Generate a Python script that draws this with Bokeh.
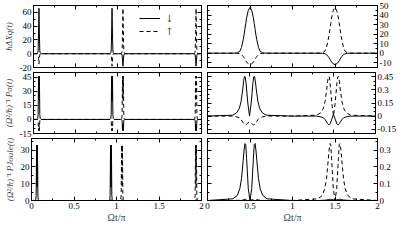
from bokeh.plotting import figure
from bokeh.models import LinearAxis, FixedTicker, Range1d, Legend, LegendItem, ColumnDataSource
from bokeh.layouts import column, row
from bokeh.embed import file_html
from bokeh.resources import INLINE

# ---------------- data ----------------
# left column: time in units of pi (Omega t / pi)
t_left = [0.0,
          0.04, 0.05, 0.055, 0.06, 0.065, 0.07, 0.075, 0.08, 0.09,
          0.91, 0.92, 0.925, 0.93, 0.935, 0.94, 0.945, 0.95, 0.96,
          1.04, 1.05, 1.055, 1.06, 1.065, 1.07, 1.075, 1.08, 1.09,
          1.91, 1.92, 1.925, 1.93, 1.935, 1.94, 1.945, 1.95, 1.96,
          2.0]
dx_down = [0,
           0, 1.5, 4, 30, 66, 30, 4, 1.5, 0,
           0, 1.5, 4, 30, 66, 30, 4, 1.5, 0,
           0, -0.5, -2, -9, -18, -9, -2, -0.5, 0,
           0, -0.5, -2, -9, -18, -9, -2, -0.5, 0,
           0]
dx_up = [0,
         0, -0.5, -1.5, -7, -15, -7, -1.5, -0.5, 0,
         0, -0.5, -2, -9, -18, -9, -2, -0.5, 0,
         0, 1.5, 4, 30, 66, 30, 4, 1.5, 0,
         0, 1.5, 4, 30, 66, 30, 4, 1.5, 0,
         0]
ps_down = [0,
           0, 1, 5, 46, 20, 46, 5, 1, 0,
           0, 1, 5, 46, 20, 46, 5, 1, 0,
           0, -0.3, -1.5, -12, -5, -12, -1.5, -0.3, 0,
           0, -0.3, -1.5, -12, -5, -12, -1.5, -0.3, 0,
           0]
ps_up = [0,
         0, -0.3, -1.5, -12, -5, -12, -1.5, -0.3, 0,
         0, -0.3, -1.5, -12, -5, -12, -1.5, -0.3, 0,
         0, 1, 5, 46, 20, 46, 5, 1, 0,
         0, 1, 5, 46, 20, 46, 5, 1, 0,
         0]
pj_down = [0,
           0, 0.5, 3, 33, 8, 33, 3, 0.5, 0,
           0, 0.5, 3, 33, 8, 33, 3, 0.5, 0,
           0, 0, 0.1, 0.3, 0.4, 0.3, 0.1, 0, 0,
           0, 0, 0.1, 0.3, 0.4, 0.3, 0.1, 0, 0,
           0]
pj_up = [0,
         0, 0, 0.1, 0.3, 0.4, 0.3, 0.1, 0, 0,
         0, 0, 0.1, 0.3, 0.4, 0.3, 0.1, 0, 0,
         0, 0.5, 3, 33, 8, 33, 3, 0.5, 0,
         0, 0.5, 3, 33, 8, 33, 3, 0.5, 0,
         0]

# right column
t_right = [0.0,
           0.3, 0.35, 0.38, 0.4, 0.42, 0.43, 0.44, 0.45, 0.46, 0.48, 0.5,
           0.52, 0.54, 0.55, 0.56, 0.57, 0.58, 0.6, 0.62, 0.65, 0.7,
           1.0,
           1.3, 1.35, 1.38, 1.4, 1.42, 1.43, 1.44, 1.45, 1.46, 1.48, 1.5,
           1.52, 1.54, 1.55, 1.56, 1.57, 1.58, 1.6, 1.62, 1.65, 1.7,
           2.0]
dxr_down = [0,
            0, 0.3, 2, 6, 14, 19, 25, 31, 37, 45, 48, 45, 37, 31, 25, 19, 14, 6, 2, 0.3, 0,
            0,
            0, -0.1, -0.5, -1.5, -3.5, -4.8, -6.2, -7.8, -9.2, -11.2, -12,
            -11.2, -9.2, -7.8, -6.2, -4.8, -3.5, -1.5, -0.5, -0.1, 0,
            0]
dxr_up = [0,
          0, -0.1, -0.5, -1.5, -3.5, -4.8, -6.2, -7.8, -9.2, -11.2, -12,
          -11.2, -9.2, -7.8, -6.2, -4.8, -3.5, -1.5, -0.5, -0.1, 0,
          0,
          0, 0.3, 2, 6, 14, 19, 25, 31, 37, 45, 48, 45, 37, 31, 25, 19, 14, 6, 2, 0.3, 0,
          0]
psr_down = [0,
            0.01, 0.04, 0.09, 0.17, 0.31, 0.40, 0.455, 0.45, 0.37, 0.15, 0.0,
            0.15, 0.37, 0.45, 0.455, 0.40, 0.31, 0.17, 0.09, 0.04, 0.01,
            0,
            0, -0.01, -0.02, -0.04, -0.07, -0.085, -0.097, -0.1, -0.09, -0.035, 0.02,
            -0.035, -0.09, -0.1, -0.097, -0.085, -0.07, -0.04, -0.02, -0.01, 0,
            0]
psr_up = [0,
          0, -0.01, -0.02, -0.04, -0.07, -0.085, -0.097, -0.1, -0.097, -0.08, -0.068,
          -0.08, -0.097, -0.1, -0.097, -0.085, -0.07, -0.04, -0.02, -0.01, 0,
          0,
          0.01, 0.04, 0.09, 0.17, 0.31, 0.40, 0.455, 0.45, 0.37, 0.15, 0.0,
          0.15, 0.37, 0.45, 0.455, 0.40, 0.31, 0.17, 0.09, 0.04, 0.01,
          0]
pjr_down = [0,
            0.01, 0.03, 0.07, 0.13, 0.24, 0.30, 0.34, 0.335, 0.25, 0.07, 0.0,
            0.07, 0.25, 0.335, 0.34, 0.30, 0.24, 0.13, 0.07, 0.03, 0.01,
            0,
            0, 0.001, 0.002, 0.003, 0.005, 0.006, 0.007, 0.007, 0.006, 0.004, 0.003,
            0.004, 0.006, 0.007, 0.007, 0.006, 0.005, 0.003, 0.002, 0.001, 0,
            0]
pjr_up = [0,
          0, 0.001, 0.002, 0.003, 0.005, 0.006, 0.007, 0.007, 0.006, 0.004, 0.003,
          0.004, 0.006, 0.007, 0.007, 0.006, 0.005, 0.003, 0.002, 0.001, 0,
          0,
          0.01, 0.03, 0.07, 0.13, 0.24, 0.30, 0.34, 0.335, 0.25, 0.07, 0.0,
          0.07, 0.25, 0.335, 0.34, 0.30, 0.24, 0.13, 0.07, 0.03, 0.01,
          0]

# ticks
x_ticks = [0, 0.5, 1, 1.5, 2]
x_tick_labels = ["0", "0.5", "1", "1.5", "2"]
x_minor = [0.25, 0.75, 1.25, 1.75]

y11_ticks = [-20, 0, 20, 40, 60]
y11_labels = ["-20", "0", "20", "40", "60"]
y11_minor = [-10, 10, 30, 50]
y12_ticks = [-10, 0, 10, 20, 30, 40, 50]
y12_labels = ["-10", "0", "10", "20", "30", "40", "50"]
y12_minor = [-15, -5, 5, 15, 25, 35, 45]
y21_ticks = [-15, 0, 15, 30, 45]
y21_labels = ["-15", "0", "15", "30", "45"]
y21_minor = [-10, -5, 5, 10, 20, 25, 35, 40]
y22_ticks = [-0.15, 0, 0.15, 0.3, 0.45]
y22_labels = ["-0.15", "0", "0.15", "0.3", "0.45"]
y22_minor = [-0.1, -0.05, 0.05, 0.1, 0.2, 0.25, 0.35, 0.4]
y31_ticks = [0, 10, 20, 30]
y31_labels = ["0", "10", "20", "30"]
y31_minor = [5, 15, 25, 35]
y32_ticks = [0, 0.1, 0.2, 0.3]
y32_labels = ["0", "0.1", "0.2", "0.3"]
y32_minor = [0.05, 0.15, 0.25, 0.35]

ylabel1 = "hΔXq(t)"
ylabel2 = "(Ω²/h)⁻¹ Pσ(t)"
ylabel3 = "(Ω²/h)⁻¹ PJoule(t)"
xlabel = "Ωt/π"
legend_labels = ["↓", "↑"]

FONT = "Liberation Serif"


def base_axis(ax):
    ax.major_tick_out = 0
    ax.minor_tick_out = 0
    ax.axis_line_color = "black"
    ax.major_tick_line_color = "black"
    ax.minor_tick_line_color = "black"


def label_axis(ax, ticks, minor, labels):
    base_axis(ax)
    ax.ticker = FixedTicker(ticks=ticks, minor_ticks=minor)
    ax.major_tick_in = 4
    ax.minor_tick_in = 2
    ax.major_label_overrides = {t: l for t, l in zip(ticks, labels)}
    ax.major_label_text_font = FONT
    ax.major_label_text_font_size = "9px"
    ax.major_label_text_color = "black"
    ax.major_label_standoff = 2


def mirror_axes(p, place, ticks, minor):
    # tick marks only (no labels): long marks at the labelled positions, short ones between
    for pos, length in ((ticks, 4), (minor, 2)):
        ax = LinearAxis()
        base_axis(ax)
        ax.ticker = FixedTicker(ticks=[], minor_ticks=pos)
        ax.major_tick_in = 0
        ax.minor_tick_in = length
        ax.major_label_standoff = 0
        p.add_layout(ax, place)


def panel(width, height, mbl, mbr, mbt, mbb, yr, side, yt, ym, yl, ylabel,
          tx, down, up, bottom):
    p = figure(width=width, height=height, x_range=Range1d(0, 2), y_range=Range1d(*yr),
               y_axis_location=side, x_axis_location="below" if bottom else None,
               output_backend="svg", toolbar_location=None,
               min_border_left=mbl, min_border_right=mbr,
               min_border_top=mbt, min_border_bottom=mbb)
    p.grid.visible = False
    p.outline_line_color = "black"
    p.background_fill_color = "white"
    p.border_fill_color = "white"
    src = ColumnDataSource(dict(t=tx, down=down, up=up))
    r1 = p.line("t", "down", source=src, line_color="black", line_width=1)
    r2 = p.line("t", "up", source=src, line_color="black", line_width=1, line_dash="4 3")

    if bottom:
        label_axis(p.xaxis[0], x_ticks, x_minor, x_tick_labels)
        p.xaxis[0].axis_label = xlabel
        p.xaxis[0].axis_label_text_font = FONT
        p.xaxis[0].axis_label_text_font_size = "10px"
        p.xaxis[0].axis_label_text_font_style = "normal"
        p.xaxis[0].axis_label_standoff = 0
    else:
        mirror_axes(p, "below", x_ticks, x_minor)
    mirror_axes(p, "above", x_ticks, x_minor)

    label_axis(p.yaxis[0], yt, ym, yl)
    if ylabel:
        p.yaxis[0].axis_label = ylabel
        p.yaxis[0].axis_label_text_font = FONT
        p.yaxis[0].axis_label_text_font_size = "9px"
        p.yaxis[0].axis_label_text_font_style = "italic"
        p.yaxis[0].axis_label_standoff = 3
    mirror_axes(p, "left" if side == "right" else "right", yt, ym)
    return p, r1, r2


LW, RW = 204, 195
H1, H2, H3 = 71, 66, 88

p11, a, b = panel(LW, H1, 31, 3, 5, 4, (-20, 70), "left", y11_ticks, y11_minor, y11_labels, ylabel1,
                  t_left, dx_down, dx_up, False)
legend = Legend(items=[LegendItem(label=legend_labels[0], renderers=[a]),
                       LegendItem(label=legend_labels[1], renderers=[b])],
                location=(106, 30), orientation="vertical",
                border_line_alpha=0, background_fill_alpha=0,
                label_text_font="DejaVu Serif", label_text_font_size="10px",
                glyph_width=21, glyph_height=12, label_height=12,
                spacing=1, padding=0, margin=0, label_standoff=5)
p11.add_layout(legend)
p12, _, _ = panel(RW, H1, 3, 22, 5, 4, (-15, 50), "right", y12_ticks, y12_minor, y12_labels, None,
                  t_right, dxr_down, dxr_up, False)
p21, _, _ = panel(LW, H2, 31, 3, 1, 4, (-15, 50), "left", y21_ticks, y21_minor, y21_labels, ylabel2,
                  t_left, ps_down, ps_up, False)
p22, _, _ = panel(RW, H2, 3, 22, 1, 4, (-0.2, 0.5), "right", y22_ticks, y22_minor, y22_labels, None,
                  t_right, psr_down, psr_up, False)
p31, _, _ = panel(LW, H3, 31, 3, 1, 25, (0, 37), "left", y31_ticks, y31_minor, y31_labels, ylabel3,
                  t_left, pj_down, pj_up, True)
p32, _, _ = panel(RW, H3, 3, 22, 1, 25, (0, 0.37), "right", y32_ticks, y32_minor, y32_labels, None,
                  t_right, pjr_down, pjr_up, True)

layout = column(row(p11, p12, spacing=0), row(p21, p22, spacing=0), row(p31, p32, spacing=0), spacing=0)

open("out.html", "w").write(file_html(layout, INLINE))
